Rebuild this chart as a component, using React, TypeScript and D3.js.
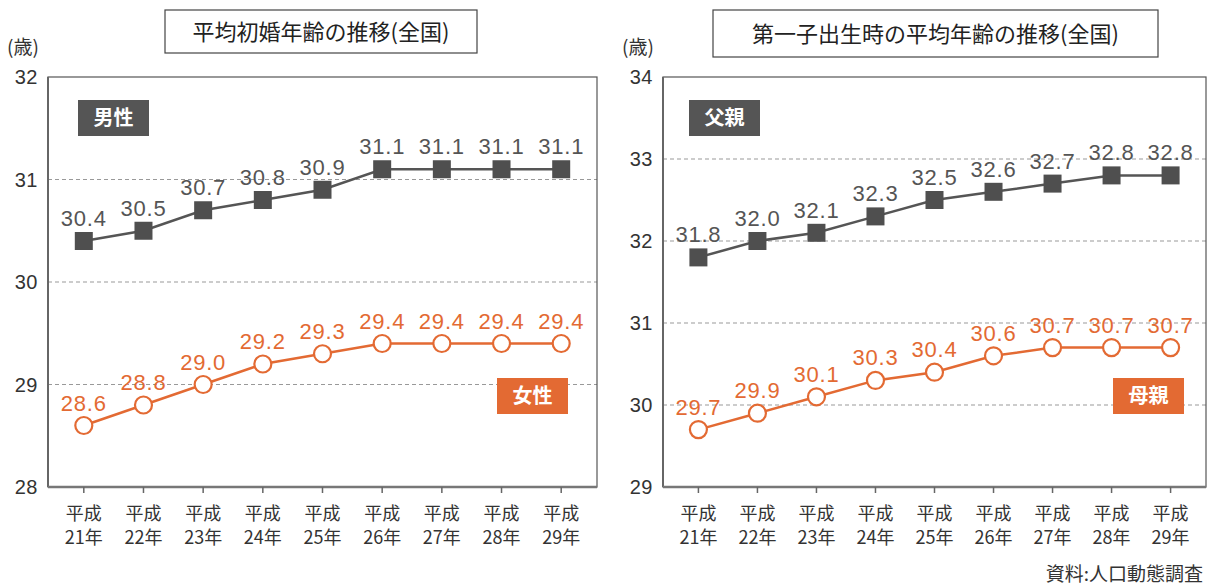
import React from "react";
import * as d3 from "d3";

const era = "平成";
const years = ["21年", "22年", "23年", "24年", "25年", "26年", "27年", "28年", "29年"];

const marriageMale = [30.4, 30.5, 30.7, 30.8, 30.9, 31.1, 31.1, 31.1, 31.1];
const marriageFemale = [28.6, 28.8, 29.0, 29.2, 29.3, 29.4, 29.4, 29.4, 29.4];
const marriageTicks = [28, 29, 30, 31, 32];

const birthFather = [31.8, 32.0, 32.1, 32.3, 32.5, 32.6, 32.7, 32.8, 32.8];
const birthMother = [29.7, 29.9, 30.1, 30.3, 30.4, 30.6, 30.7, 30.7, 30.7];
const birthTicks = [29, 30, 31, 32, 33, 34];

const GRAY = "#555555";
const ORANGE = "#e36a33";
const FONT = "'Noto Sans CJK JP', 'Noto Sans', sans-serif";
const NUM_FONT = "'Liberation Sans', Arial, sans-serif";

type PanelProps = {
  left: number;
  right: number;
  title: string;
  titleBox: [number, number, number, number];
  ticks: number[];
  upper: number[];
  lower: number[];
  upperName: string;
  lowerName: string;
  upperLegend: [number, number];
  lowerLegend: [number, number];
};

const Panel = (p: PanelProps) => {
  const top = 77;
  const bottom = 487;
  const x = d3.scalePoint<string>().domain(years).range([p.left, p.right]).padding(0.6);
  const y = d3.scaleLinear().domain(d3.extent(p.ticks) as [number, number]).range([bottom, top]);
  const line = d3
    .line<number>()
    .x((_, i) => x(years[i])!)
    .y((d) => y(d));
  const [tx, ty, tw, th] = p.titleBox;

  return (
    <g fontFamily={FONT}>
      <rect x={tx} y={ty} width={tw} height={th} fill="#fff" stroke="#444" strokeWidth={1.2} />
      <text x={tx + tw / 2} y={ty + th / 2 + 8} textAnchor="middle" fontSize={22} fill="#222">
        {p.title}
      </text>
      <text x={p.left - 41} y={54} fontSize={19} fill="#333">(歳)</text>

      {/* grid */}
      {p.ticks.slice(1, -1).map((t) => (
        <line key={t} x1={p.left} x2={p.right} y1={y(t)} y2={y(t)} stroke="#999" strokeDasharray="4,3" strokeWidth={1} />
      ))}
      <rect x={p.left} y={top} width={p.right - p.left} height={bottom - top} fill="none" stroke="#555" strokeWidth={1.2} />
      <line x1={p.left} x2={p.left} y1={top} y2={bottom} stroke="#666" strokeWidth={2} />
      <line x1={p.left} x2={p.right} y1={bottom} y2={bottom} stroke="#777" strokeWidth={2.5} />

      {p.ticks.map((t) => (
        <text key={t} x={p.left - 10} y={y(t) + 7} textAnchor="end" fontSize={20} fill="#333" fontFamily={NUM_FONT} letterSpacing={0.5}>
          {t}
        </text>
      ))}

      {years.map((yr) => (
        <g key={yr}>
          <line x1={x(yr)} x2={x(yr)} y1={bottom} y2={bottom + 6} stroke="#666" strokeWidth={1.5} />
          <text x={x(yr)} y={520} textAnchor="middle" fontSize={18} fill="#333">{era}</text>
          <text x={x(yr)} y={544} textAnchor="middle" fontSize={18} fill="#333">{yr}</text>
        </g>
      ))}

      {/* upper series */}
      <path d={line(p.upper)!} fill="none" stroke={GRAY} strokeWidth={2.5} />
      {p.upper.map((v, i) => (
        <g key={i}>
          <rect x={x(years[i])! - 9} y={y(v) - 9} width={18} height={18} fill="#4f4f4f" />
          <text x={x(years[i])} y={y(v) - 15} textAnchor="middle" fontSize={22} fill={GRAY} fontFamily={NUM_FONT} letterSpacing={0.8}>
            {v.toFixed(1)}
          </text>
        </g>
      ))}

      {/* lower series */}
      <path d={line(p.lower)!} fill="none" stroke={ORANGE} strokeWidth={2.5} />
      {p.lower.map((v, i) => (
        <g key={i}>
          <circle cx={x(years[i])} cy={y(v)} r={8.5} fill="#fff" stroke={ORANGE} strokeWidth={2.2} />
          <text x={x(years[i])} y={y(v) - 15} textAnchor="middle" fontSize={22} fill={ORANGE} fontFamily={NUM_FONT} letterSpacing={0.8}>
            {v.toFixed(1)}
          </text>
        </g>
      ))}

      <rect x={p.upperLegend[0]} y={p.upperLegend[1]} width={71} height={36} fill={GRAY} />
      <text x={p.upperLegend[0] + 35.5} y={p.upperLegend[1] + 25} textAnchor="middle" fontSize={20} fontWeight="bold" fill="#fff">
        {p.upperName}
      </text>
      <rect x={p.lowerLegend[0]} y={p.lowerLegend[1]} width={71} height={36} fill={ORANGE} />
      <text x={p.lowerLegend[0] + 35.5} y={p.lowerLegend[1] + 25} textAnchor="middle" fontSize={20} fontWeight="bold" fill="#fff">
        {p.lowerName}
      </text>
    </g>
  );
};

export default function App() {
  return (
    <svg
      width={1208}
      height={585}
      style={{ position: "absolute", left: 0, top: 0, background: "#fff" }}
    >
      <Panel
        left={48}
        right={597}
        title="平均初婚年齢の推移(全国)"
        titleBox={[165, 10, 312, 43]}
        ticks={marriageTicks}
        upper={marriageMale}
        lower={marriageFemale}
        upperName="男性"
        lowerName="女性"
        upperLegend={[78, 100]}
        lowerLegend={[497, 378]}
      />
      <Panel
        left={663}
        right={1206}
        title="第一子出生時の平均年齢の推移(全国)"
        titleBox={[713, 10, 445, 47]}
        ticks={birthTicks}
        upper={birthFather}
        lower={birthMother}
        upperName="父親"
        lowerName="母親"
        upperLegend={[689, 100]}
        lowerLegend={[1113, 378]}
      />
      <text x={1203} y={581} textAnchor="end" fontSize={19} fill="#333" fontFamily={FONT}>
        資料:人口動態調査
      </text>
    </svg>
  );
}
